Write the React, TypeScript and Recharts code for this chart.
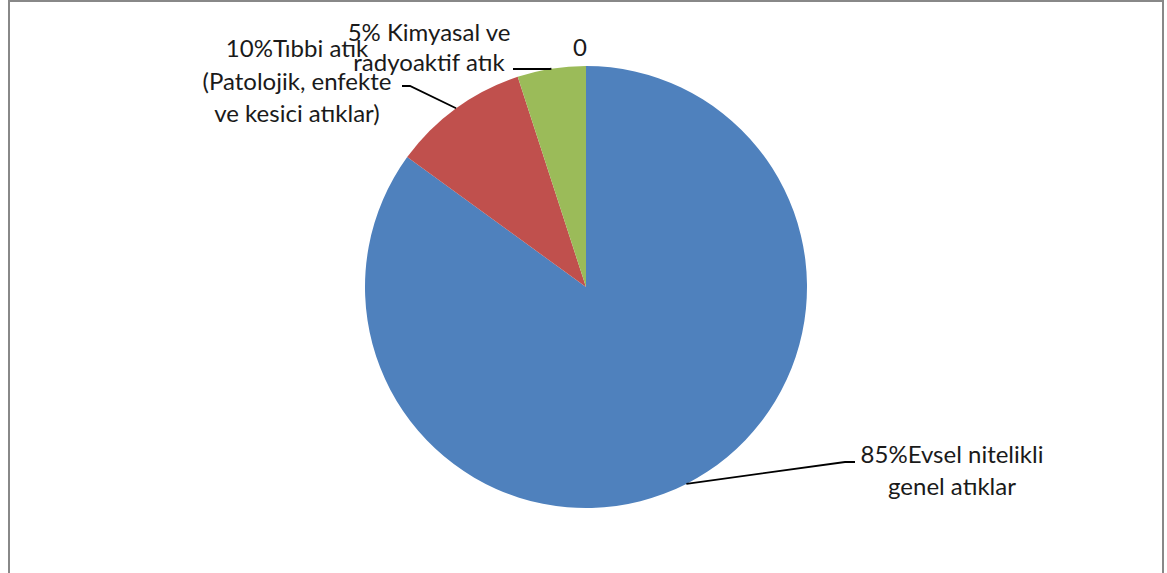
import React from "react";
import { PieChart, Pie, Cell } from "recharts";

const categories = [
  ["85%Evsel nitelikli", "genel atıklar"],
  ["10%Tıbbi atık", "(Patolojik, enfekte", "ve kesici atıklar)"],
  ["5% Kimyasal ve", "radyoaktif atık"],
  ["0"],
];
const values = [85, 10, 5, 0];
const colors = ["#4F81BD", "#C0504D", "#9BBB59", "#8064A2"];

// label layout relative to the pie centre: elbow point, line end, text anchor
const labelLayout = [
  { elbow: [259, 175], end: [269, 175], tx: 366, ty: 166, lh: 32 },
  { elbow: [-176, -201], end: [-184, -201], tx: -289, ty: -240, lh: 32.5 },
  { elbow: [-36, -218], end: [-73, -218], tx: -157, ty: -256, lh: 30 },
  { elbow: null, end: null, tx: -6, ty: -241, lh: 30 },
];

const RAD = Math.PI / 180;

const renderLabel = (props: any) => {
  const { cx, cy, midAngle, outerRadius, index } = props;
  const lay = labelLayout[index];
  const sx = cx + outerRadius * Math.cos(-midAngle * RAD);
  const sy = cy + outerRadius * Math.sin(-midAngle * RAD);
  const lines = categories[index];
  let path = "";
  if (lay.elbow && lay.end) {
    path = `M${sx},${sy}L${cx + lay.elbow[0]},${cy + lay.elbow[1]}L${cx + lay.end[0]},${cy + lay.end[1]}`;
  }
  return (
    <g key={`lbl-${index}`}>
      {path && <path d={path} stroke="#000" strokeWidth={1.8} fill="none" />}
      <text
        x={cx + lay.tx}
        y={cy + lay.ty}
        textAnchor="middle"
        fontFamily="Lato, 'Noto Sans', sans-serif"
        fontSize={24}
        fill="#1a1a1a"
        dominantBaseline="central"
      >
        {lines.map((l, i) => (
          <tspan key={i} x={cx + lay.tx} dy={i === 0 ? 0 : lay.lh}>
            {l}
          </tspan>
        ))}
      </text>
    </g>
  );
};

const data = values.map((v, i) => ({ name: categories[i].join(" "), value: v }));

export default function App() {
  return (
    <div
      style={{
        position: "absolute",
        left: 0,
        top: 0,
        width: 1167,
        height: 573,
        overflow: "hidden",
        background: "#fff",
      }}
    >
      <div
        style={{
          position: "absolute",
          left: 8,
          top: 0,
          width: 1156,
          height: 620,
          boxSizing: "border-box",
          border: "2px solid #888",
        }}
      />
      <PieChart
        width={1167}
        height={573}
        margin={{ top: 0, right: 0, bottom: 0, left: 0 }}
        style={{ position: "absolute", left: 0, top: 0 }}
      >
        <Pie
          data={data}
          dataKey="value"
          cx={586}
          cy={287}
          outerRadius={221}
          startAngle={90}
          endAngle={-270}
          stroke="none"
          label={renderLabel}
          labelLine={false}
          isAnimationActive={false}
          minAngle={0}
        >
          {data.map((d, i) => (
            <Cell key={i} fill={colors[i]} />
          ))}
        </Pie>
      </PieChart>
    </div>
  );
}
